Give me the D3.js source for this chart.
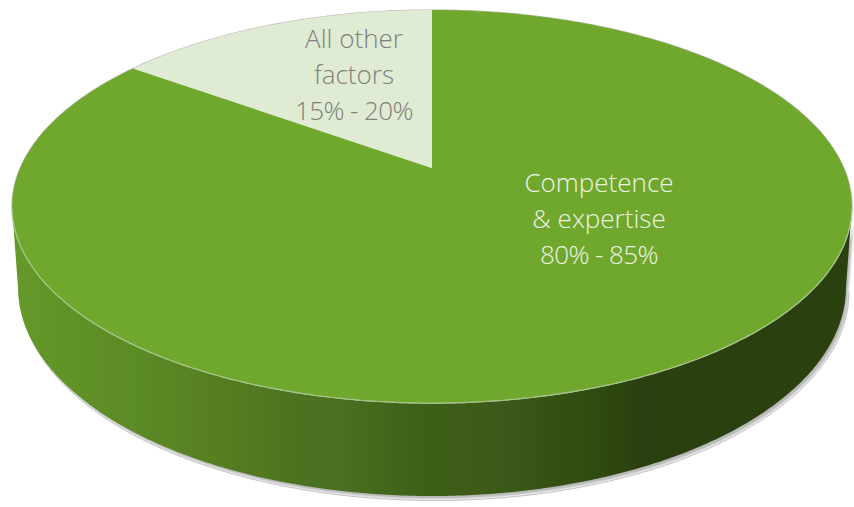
<!DOCTYPE html>
<html>
<head>
<meta charset="utf-8">
<script src="https://cdnjs.cloudflare.com/ajax/libs/d3/7.8.5/d3.min.js"></script>
<style>
  html, body { margin: 0; padding: 0; background: #fff; }
  svg { display: block; }
  text { font-family: "Open Sans", sans-serif; font-weight: 300; font-size: 26px; text-anchor: middle; }
  .range-line { letter-spacing: -0.6px; }
</style>
</head>
<body>
<svg id="chart" width="854" height="507"></svg>
<script>
// Share of outcome by factor; slices run clockwise from twelve o'clock
const categories = ["Competence & expertise", "All other factors"];
const sliceValues = [85, 15];
const sliceColors = ["#70a82e", "#e0ebd4"];
const labelLines = [
  ["Competence", "& expertise", "80% - 85%"],
  ["All other", "factors", "15% - 20%"]
];
const labelColors = ["#eef2e6", "#7f807c"];
const labelCenters = [[599, 192], [354, 48]];

// Shading bands along the rim, by horizontal position
const wallStops = [12, 60, 100, 118, 130, 180, 230, 300, 320, 360, 400, 430, 470, 505, 530, 560, 600, 640, 852];
const wallShades = ["#66992a", "#619428", "#5e8e26", "#5e8a26", "#5a8c27", "#5a8423", "#567c20", "#4c7220", "#4b7221", "#486c1e", "#406419", "#3c6017", "#3f5b18", "#3a5a1a", "#395515", "#345010", "#2f4a10", "#2a4010", "#2a400f"];

// Perspective view of the disc: the hub sits above the centre of the drawn ellipse
const hub = { x: 432, y: 168 };
const lens = { a: 411.8, b: 189, k: -0.196 };
const rimCenterY = 207;
const lowerRim = { sx: 414 / 420, sy: 209 / 197, cy: 288 };

function project(angle) {
  const u = Math.sin(angle);
  const v = -Math.cos(angle);
  const w = 1 + lens.k * v;
  return [hub.x + lens.a * u / w, hub.y + lens.b * v / w];
}
function projectLower(angle) {
  const [x, y] = project(angle);
  return [hub.x + (x - hub.x) * lowerRim.sx, lowerRim.cy + (y - rimCenterY) * lowerRim.sy];
}

const svg = d3.select("#chart");
const defs = svg.append("defs");
const line = d3.line();

const wallX = d3.scaleLinear().domain([12, 852]).range([0, 1]);
const wallGradient = defs.append("linearGradient")
  .attr("id", "wallShade")
  .attr("gradientUnits", "userSpaceOnUse")
  .attr("x1", 12).attr("x2", 852).attr("y1", 0).attr("y2", 0);
wallGradient.selectAll("stop").data(wallStops).join("stop")
  .attr("offset", d => wallX(d))
  .attr("stop-color", (d, i) => wallShades[i]);

defs.append("filter").attr("id", "soft")
  .attr("x", "-5%").attr("y", "-5%").attr("width", "110%").attr("height", "110%")
  .append("feGaussianBlur").attr("stdDeviation", 1.3);

const slices = d3.pie().sort(null).value(d => d)(sliceValues);
const turn = d3.range(0, 721).map(i => i / 720 * 2 * Math.PI);

// Silhouette of the side wall: front part of the top rim, back along the lower rim
const topFront = turn.map(a => project(a)).filter(p => p[1] >= rimCenterY).sort((p, q) => p[0] - q[0]);
const lowFront = turn.map(projectLower).filter(p => p[1] >= lowerRim.cy).sort((p, q) => q[0] - p[0]);
const wallPath = line(topFront.concat(lowFront)) + "Z";

// Drop shadow with a hairline edge under the wall
svg.append("path").attr("d", wallPath)
  .attr("fill", "#a6a6a6")
  .attr("opacity", 0.8)
  .attr("filter", "url(#soft)")
  .attr("transform", "translate(2.5,3)");
svg.append("path").attr("d", line(lowFront))
  .attr("fill", "none").attr("stroke", "#b4b4b4").attr("stroke-width", 0.8)
  .attr("transform", "translate(3,4.5)");

svg.append("path").attr("d", wallPath).attr("fill", "url(#wallShade)");

// Thin halo round the whole disc
svg.append("path")
  .attr("d", line(turn.map(a => project(a))) + "Z")
  .attr("fill", "none").attr("stroke", "#b9b9b9").attr("stroke-width", 1.2);

// Top face, one wedge per category
const wedge = d => {
  const n = Math.ceil((d.endAngle - d.startAngle) * 120);
  const arc = d3.range(n + 1).map(i => project(d.startAngle + (d.endAngle - d.startAngle) * i / n));
  return line([[hub.x, hub.y], ...arc]) + "Z";
};
svg.append("g").selectAll("path").data(slices).join("path")
  .attr("d", wedge)
  .attr("fill", (d, i) => sliceColors[i])
  .attr("aria-label", (d, i) => categories[i]);

// Light edge where the top face meets the wall
svg.append("path")
  .attr("d", line(topFront))
  .attr("fill", "none").attr("stroke", "#a4c684").attr("stroke-width", 1.2);

// Wedge labels
const labels = svg.append("g").selectAll("text").data(labelLines).join("text")
  .attr("fill", (d, i) => labelColors[i]);
labels.selectAll("tspan").data((d, i) => d.map(t => ({ t, i }))).join("tspan")
  .attr("class", (d, j) => j === 2 ? "range-line" : null)
  .attr("x", d => labelCenters[d.i][0])
  .attr("y", (d, j) => labelCenters[d.i][1] + j * 36)
  .text(d => d.t);
</script>
</body>
</html>
